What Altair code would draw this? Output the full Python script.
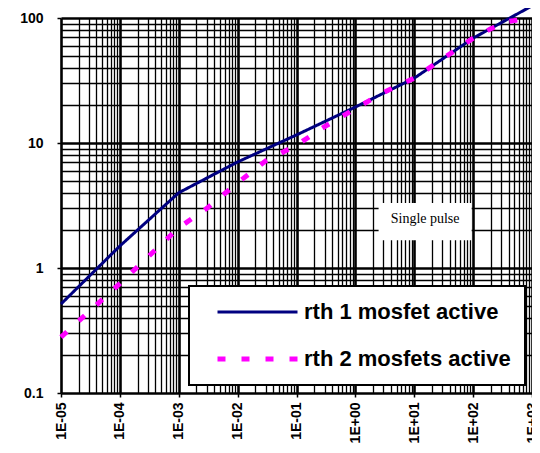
import altair as alt
import pandas as pd

# ---- data ----
series_names = ["rth 1 mosfet active", "rth 2 mosfets active"]
series_colors = ["#000080", "#FF00FF"]

t_one = [1e-5, 1e-4, 1e-3, 1e-2, 1e-1, 1, 10, 100, 1000]
r_one = [0.515, 1.5, 4.0, 7.05, 11.6, 19.4, 33, 69, 125]

t_two = [1e-5, 1e-4, 1e-3, 3e-3, 1e-2, 3e-2, 1e-1, 3e-1, 1, 3, 10, 30, 100, 200, 400, 1000]
r_two = [0.28, 0.75, 2.1, 3.0, 4.8, 7.2, 9.6, 13.5, 18.8, 25.4, 33, 47, 69, 82, 94, 100]

x_tick_labels = ["1E-05", "1E-04", "1E-03", "1E-02", "1E-01", "1E+00", "1E+01", "1E+02", "1E+03"]
y_tick_labels = ["0.1", "1", "10", "100"]

note_text = ["Single pulse"]
note_x = [15.3]
note_y = [2.45]
note_box_x = [2.48]
note_box_x2 = [94.4]
note_box_y = [1.67]
note_box_y2 = [3.31]

# ---- tables ----
df = pd.DataFrame({
    "t": t_one + t_two,
    "r": r_one + r_two,
    "series": [series_names[0]] * len(t_one) + [series_names[1]] * len(t_two),
    "order": list(range(len(t_one))) + list(range(len(t_two))),
})
note_df = pd.DataFrame({"x": note_x, "y": note_y, "x0": note_box_x, "x1": note_box_x2,
                        "y0": note_box_y, "y1": note_box_y2, "text": note_text})

x_grid = [m * 10.0 ** e for e in range(-5, 3) for m in range(1, 10)] + [1000.0]
y_grid = [m * 10.0 ** e for e in range(-1, 2) for m in range(1, 10)] + [100.0]

major = "abs(log(datum.value)/LN10 - round(log(datum.value)/LN10)) < 1e-6"
x_arr = "[" + ",".join("'%s'" % s for s in x_tick_labels) + "]"
y_arr = "[" + ",".join("'%s'" % s for s in y_tick_labels) + "]"
x_label_expr = f"({major}) ? {x_arr}[round(log(datum.value)/LN10)+5] : ''"
y_label_expr = f"({major}) ? {y_arr}[round(log(datum.value)/LN10)+1] : ''"

grid_w = {"condition": {"test": major, "value": 2.6}, "value": 1.3}
tick_op = {"condition": {"test": major, "value": 1}, "value": 0}

common_axis = dict(
    grid=True, gridColor="black", gridOpacity=1, gridWidth=grid_w,
    tickColor="black", tickSize=4, tickWidth=1.5, tickOpacity=tick_op,
    domain=False, title=None, labelFont="Liberation Sans", labelFontWeight="bold",
    labelFontSize=14, labelColor="black", labelOverlap=False, labelFlush=False,
)

x_scale = alt.Scale(type="log", domain=[1e-5, 1e3], nice=False)
y_scale = alt.Scale(type="log", domain=[0.1, 100], nice=False)

x_enc = alt.X("t:Q", scale=x_scale,
              axis=alt.Axis(values=x_grid, labelExpr=x_label_expr, labelAngle=270,
                            labelPadding=5, **common_axis))
y_enc = alt.Y("r:Q", scale=y_scale,
              axis=alt.Axis(values=y_grid, labelExpr=y_label_expr, labelPadding=14,
                            **common_axis))

base = alt.Chart(df)

lines = base.mark_line(strokeCap="butt", clip=False).encode(
    x=x_enc,
    y=y_enc,
    order="order:Q",
    color=alt.Color("series:N", scale=alt.Scale(domain=series_names, range=series_colors),
                    legend=alt.Legend(orient="none", legendX=128, legendY=268, title=None,
                                      fillColor="white", strokeColor="black", padding=14,
                                      symbolType="stroke", symbolSize=6400, symbolStrokeWidth=4,
                                      symbolOffset=12, labelOffset=4, rowPadding=23, clipHeight=24,
                                      labelFont="Liberation Sans", labelFontWeight="bold",
                                      labelFontSize=22, labelColor="black", labelLimit=400,
                                      labelExpr="datum.label + '   '")),
    strokeDash=alt.StrokeDash("series:N", scale=alt.Scale(domain=series_names, range=[[1, 0], [8, 16]])),
    strokeWidth=alt.StrokeWidth("series:N", scale=alt.Scale(domain=series_names, range=[3, 5]), legend=None),
)

box = alt.Chart(note_df).mark_rect(fill="white", stroke=None).encode(
    x=alt.X("x0:Q", scale=x_scale), x2="x1:Q",
    y=alt.Y("y0:Q", scale=y_scale), y2="y1:Q",
)
txt = alt.Chart(note_df).mark_text(font="Liberation Serif", fontSize=14, color="black",
                                   align="center", baseline="middle").encode(
    x=alt.X("x:Q", scale=x_scale), y=alt.Y("y:Q", scale=y_scale), text="text:N",
)

chart = alt.layer(box, txt, lines).properties(
    width=471, height=375,
    autosize=alt.AutoSizeParams(type="none"),
    padding={"left": 53, "top": 10, "right": 0, "bottom": 52},
).configure_view(stroke=None).configure(background="white").configure_legend(strokeWidth=2)

chart.save("out.html", embed_options={"renderer": "svg", "actions": False})
